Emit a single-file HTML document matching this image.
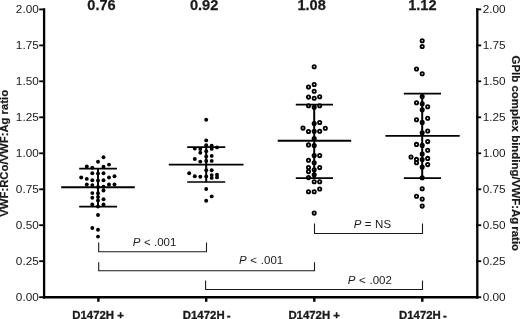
<!DOCTYPE html>
<html><head><meta charset="utf-8"><title>chart</title>
<style>html,body{margin:0;padding:0;background:#fff}svg{display:block}text{font-kerning:none;font-family:"Liberation Sans",Arial,sans-serif;fill:#1a1a1a}</style></head><body>
<svg width="520" height="319" viewBox="0 0 520 319">
<rect width="520" height="319" fill="#fff"/>
<g stroke="#000" fill="none" stroke-linecap="butt">
<path d="M44.1 8.2V298.4" stroke-width="2.3"/>
<path d="M477.3 8.2V298.4" stroke-width="2.3"/>
<path d="M42.8 297.2H478.6" stroke-width="2.5"/>
<path d="M39.2 297.2H44" stroke-width="1.8"/>
<path d="M476 297.2H481.2" stroke-width="1.8"/>
<path d="M39.2 261.2H44" stroke-width="1.8"/>
<path d="M476 261.2H481.2" stroke-width="1.8"/>
<path d="M39.2 225.2H44" stroke-width="1.8"/>
<path d="M476 225.2H481.2" stroke-width="1.8"/>
<path d="M39.2 189.3H44" stroke-width="1.8"/>
<path d="M476 189.3H481.2" stroke-width="1.8"/>
<path d="M39.2 153.3H44" stroke-width="1.8"/>
<path d="M476 153.3H481.2" stroke-width="1.8"/>
<path d="M39.2 117.3H44" stroke-width="1.8"/>
<path d="M476 117.3H481.2" stroke-width="1.8"/>
<path d="M39.2 81.3H44" stroke-width="1.8"/>
<path d="M476 81.3H481.2" stroke-width="1.8"/>
<path d="M39.2 45.4H44" stroke-width="1.8"/>
<path d="M476 45.4H481.2" stroke-width="1.8"/>
<path d="M39.2 9.4H44" stroke-width="1.8"/>
<path d="M476 9.4H481.2" stroke-width="1.8"/>
<path d="M98.4 297.2V301.8" stroke-width="2.4"/>
<path d="M206.2 297.2V301.8" stroke-width="2.4"/>
<path d="M314.3 297.2V301.8" stroke-width="2.4"/>
<path d="M422.3 297.2V301.8" stroke-width="2.4"/>
</g>
<g font-size="11.8">
<text x="38.8" y="300.6" text-anchor="end">0.00</text>
<text x="482.7" y="300.6">0.00</text>
<text x="38.8" y="264.6" text-anchor="end">0.25</text>
<text x="482.7" y="264.6">0.25</text>
<text x="38.8" y="228.7" text-anchor="end">0.50</text>
<text x="482.7" y="228.7">0.50</text>
<text x="38.8" y="192.7" text-anchor="end">0.75</text>
<text x="482.7" y="192.7">0.75</text>
<text x="38.8" y="156.7" text-anchor="end">1.00</text>
<text x="482.7" y="156.7">1.00</text>
<text x="38.8" y="120.7" text-anchor="end">1.25</text>
<text x="482.7" y="120.7">1.25</text>
<text x="38.8" y="84.7" text-anchor="end">1.50</text>
<text x="482.7" y="84.7">1.50</text>
<text x="38.8" y="48.8" text-anchor="end">1.75</text>
<text x="482.7" y="48.8">1.75</text>
<text x="38.8" y="12.8" text-anchor="end">2.00</text>
<text x="482.7" y="12.8">2.00</text>
</g>
<g stroke="#000" fill="none">
<path d="M98.0 168.6V206.6" stroke-width="2"/>
<path d="M61.2 187.2H134.8" stroke-width="1.9"/>
<path d="M79.2 168.6H117.0M79.2 206.6H117.0" stroke-width="1.7"/>
<path d="M206.2 147.1V182.0" stroke-width="2"/>
<path d="M168.8 164.6H243.5" stroke-width="1.9"/>
<path d="M187.2 147.1H225.2M187.2 182.0H225.2" stroke-width="1.7"/>
<path d="M314.2 104.7V178.2" stroke-width="2"/>
<path d="M277.7 140.8H351.2" stroke-width="1.9"/>
<path d="M295.8 104.7H333.0M295.8 178.2H333.0" stroke-width="1.7"/>
<path d="M422.2 93.6V178.2" stroke-width="2"/>
<path d="M385.4 135.9H459.7" stroke-width="1.9"/>
<path d="M403.8 93.6H441.0M403.8 178.2H441.0" stroke-width="1.7"/>
</g>
<g fill="#000">
<circle cx="103.5" cy="157.2" r="1.95"/>
<circle cx="98.0" cy="161.7" r="1.95"/>
<circle cx="109.0" cy="164.6" r="1.95"/>
<circle cx="86.8" cy="166.5" r="1.95"/>
<circle cx="103.5" cy="166.8" r="1.95"/>
<circle cx="92.3" cy="167.8" r="1.95"/>
<circle cx="92.3" cy="173.2" r="1.95"/>
<circle cx="103.5" cy="173.2" r="1.95"/>
<circle cx="98" cy="173.5" r="1.95"/>
<circle cx="81.2" cy="177.5" r="1.95"/>
<circle cx="86.8" cy="178.9" r="1.95"/>
<circle cx="92.3" cy="180.2" r="1.95"/>
<circle cx="103.5" cy="180.2" r="1.95"/>
<circle cx="98" cy="180.5" r="1.95"/>
<circle cx="109" cy="177.5" r="1.95"/>
<circle cx="114.5" cy="176.3" r="1.95"/>
<circle cx="86.8" cy="184.5" r="1.95"/>
<circle cx="92.3" cy="185.1" r="1.95"/>
<circle cx="109" cy="184.5" r="1.95"/>
<circle cx="114.5" cy="184.5" r="1.95"/>
<circle cx="103.5" cy="186.8" r="1.95"/>
<circle cx="98" cy="187" r="1.95"/>
<circle cx="103.5" cy="190.5" r="1.95"/>
<circle cx="92.3" cy="193.1" r="1.95"/>
<circle cx="98" cy="193.3" r="1.95"/>
<circle cx="92.3" cy="197.8" r="1.95"/>
<circle cx="98" cy="197" r="1.95"/>
<circle cx="103.5" cy="199.3" r="1.95"/>
<circle cx="98" cy="200.5" r="1.95"/>
<circle cx="92.3" cy="204.4" r="1.95"/>
<circle cx="103.5" cy="204.4" r="1.95"/>
<circle cx="98" cy="206.5" r="1.95"/>
<circle cx="98" cy="215" r="1.95"/>
<circle cx="92.3" cy="228" r="1.95"/>
<circle cx="98" cy="229.7" r="1.95"/>
<circle cx="98" cy="236.6" r="1.95"/>
<circle cx="206.2" cy="119.8" r="1.95"/>
<circle cx="206.2" cy="140.4" r="1.95"/>
<circle cx="206.2" cy="145.3" r="1.95"/>
<circle cx="211.7" cy="145.7" r="1.95"/>
<circle cx="217" cy="147.4" r="1.95"/>
<circle cx="194.8" cy="148.6" r="1.95"/>
<circle cx="200.3" cy="149.1" r="1.95"/>
<circle cx="211.7" cy="148.9" r="1.95"/>
<circle cx="206.2" cy="151.2" r="1.95"/>
<circle cx="200.3" cy="152.7" r="1.95"/>
<circle cx="211.7" cy="155.9" r="1.95"/>
<circle cx="206.2" cy="156.5" r="1.95"/>
<circle cx="194.8" cy="159" r="1.95"/>
<circle cx="200.3" cy="161.6" r="1.95"/>
<circle cx="211.7" cy="160.9" r="1.95"/>
<circle cx="206.2" cy="161" r="1.95"/>
<circle cx="206.2" cy="170.2" r="1.95"/>
<circle cx="211.7" cy="170.2" r="1.95"/>
<circle cx="189.2" cy="173.2" r="1.95"/>
<circle cx="194.8" cy="176.2" r="1.95"/>
<circle cx="200.3" cy="176.7" r="1.95"/>
<circle cx="206.2" cy="176.5" r="1.95"/>
<circle cx="211.7" cy="175.1" r="1.95"/>
<circle cx="211.7" cy="177.9" r="1.95"/>
<circle cx="217" cy="174.8" r="1.95"/>
<circle cx="217" cy="177.4" r="1.95"/>
<circle cx="206.2" cy="189" r="1.95"/>
<circle cx="211.7" cy="196.4" r="1.95"/>
<circle cx="206.2" cy="200.7" r="1.95"/>
</g>
<g fill="none" stroke="#000" stroke-width="1.8">
<circle cx="314.2" cy="66.7" r="1.65"/>
<circle cx="314.2" cy="84.5" r="1.65"/>
<circle cx="308.5" cy="87" r="1.65"/>
<circle cx="314.2" cy="91.2" r="1.65"/>
<circle cx="308.5" cy="97.1" r="1.65"/>
<circle cx="319.7" cy="96.7" r="1.65"/>
<circle cx="314.2" cy="98.3" r="1.65"/>
<circle cx="308.5" cy="105.7" r="1.65"/>
<circle cx="319.7" cy="105.7" r="1.65"/>
<circle cx="314.2" cy="107.2" r="1.65"/>
<circle cx="319.7" cy="122.5" r="1.65"/>
<circle cx="314.2" cy="123.5" r="1.65"/>
<circle cx="303" cy="128.1" r="1.65"/>
<circle cx="325.3" cy="128.3" r="1.65"/>
<circle cx="308.5" cy="131.5" r="1.65"/>
<circle cx="319.7" cy="131.2" r="1.65"/>
<circle cx="314.2" cy="131.2" r="1.65"/>
<circle cx="314.2" cy="138.5" r="1.65"/>
<circle cx="308.5" cy="144.9" r="1.65"/>
<circle cx="314.2" cy="145.5" r="1.65"/>
<circle cx="314.2" cy="155.6" r="1.65"/>
<circle cx="319.7" cy="155.6" r="1.65"/>
<circle cx="308.5" cy="160.2" r="1.65"/>
<circle cx="314.2" cy="162.8" r="1.65"/>
<circle cx="308.5" cy="167.6" r="1.65"/>
<circle cx="319.7" cy="167.6" r="1.65"/>
<circle cx="314.2" cy="169.7" r="1.65"/>
<circle cx="308.5" cy="171.6" r="1.65"/>
<circle cx="314.2" cy="174.8" r="1.65"/>
<circle cx="308.5" cy="177.6" r="1.65"/>
<circle cx="314.2" cy="181.7" r="1.65"/>
<circle cx="319.7" cy="181.7" r="1.65"/>
<circle cx="319.7" cy="189" r="1.65"/>
<circle cx="308.5" cy="191.8" r="1.65"/>
<circle cx="314.2" cy="191.8" r="1.65"/>
<circle cx="314.2" cy="213.1" r="1.65"/>
<circle cx="422.2" cy="40.8" r="1.65"/>
<circle cx="422.2" cy="46.5" r="1.65"/>
<circle cx="416.5" cy="69" r="1.65"/>
<circle cx="422.2" cy="73.7" r="1.65"/>
<circle cx="422.2" cy="96.5" r="1.65"/>
<circle cx="416.5" cy="102.7" r="1.65"/>
<circle cx="422.2" cy="103.7" r="1.65"/>
<circle cx="427.7" cy="106.8" r="1.65"/>
<circle cx="422.2" cy="109.7" r="1.65"/>
<circle cx="427.7" cy="118.2" r="1.65"/>
<circle cx="416.5" cy="119.8" r="1.65"/>
<circle cx="422.2" cy="122.4" r="1.65"/>
<circle cx="427.7" cy="131" r="1.65"/>
<circle cx="422.2" cy="132.7" r="1.65"/>
<circle cx="427.7" cy="141.6" r="1.65"/>
<circle cx="416.5" cy="144.4" r="1.65"/>
<circle cx="422.2" cy="145.4" r="1.65"/>
<circle cx="427.7" cy="150.2" r="1.65"/>
<circle cx="422.2" cy="154" r="1.65"/>
<circle cx="411" cy="157" r="1.65"/>
<circle cx="427.7" cy="158.4" r="1.65"/>
<circle cx="416.5" cy="159.4" r="1.65"/>
<circle cx="422.2" cy="159.6" r="1.65"/>
<circle cx="416.5" cy="162.7" r="1.65"/>
<circle cx="427.7" cy="164.6" r="1.65"/>
<circle cx="422.2" cy="167.1" r="1.65"/>
<circle cx="422.2" cy="177.7" r="1.65"/>
<circle cx="422.2" cy="188.7" r="1.65"/>
<circle cx="416.5" cy="196.3" r="1.65"/>
<circle cx="422.2" cy="199.1" r="1.65"/>
<circle cx="422.2" cy="206.1" r="1.65"/>
</g>
<g stroke="#1a1a1a" fill="none" stroke-width="1.1">
<path d="M98.7 242.6V251.8H206.5V242.6"/>
<path d="M98.7 262.3V270.7H314.5V262.3"/>
<path d="M205.6 280.4V289.5H422.5V280.4"/>
<path d="M314.5 223.6V233.5H422.5V223.6"/>
</g>
<g font-size="11.5">
<text x="132.7" y="245.8"><tspan font-style="italic">P</tspan><tspan dx="0.5"> &lt;</tspan> .001</text>
<text x="239.1" y="264.3"><tspan font-style="italic">P</tspan><tspan dx="0.3"> &lt;</tspan><tspan dx="0.6"> .001</tspan></text>
<text x="347.7" y="283.8"><tspan font-style="italic">P</tspan><tspan dx="0.5"> &lt;</tspan><tspan dx="0.5"> .002</tspan></text>
<text x="353.8" y="227.8"><tspan font-style="italic">P</tspan> =<tspan dx="0.5"> NS</tspan></text>
</g>
<g font-size="14.6" font-weight="bold" text-anchor="middle" stroke="#1a1a1a" stroke-width="0.25">
<text x="101.5" y="10.45">0.76</text>
<text x="204.1" y="10.45">0.92</text>
<text x="311.6" y="10.45">1.08</text>
<text x="422.4" y="10.45">1.12</text>
</g>
<g font-size="11.4" font-weight="bold" text-anchor="middle" stroke="#1a1a1a" stroke-width="0.3">
<text x="98.1" y="318.7">D1472H +</text>
<text x="206.7" y="318.7">D1472H<tspan dx="-1.0"> -</tspan></text>
<text x="314.2" y="318.7">D1472H +</text>
<text x="422.9" y="318.7">D1472H<tspan dx="-1.0"> -</tspan></text>
</g>
<text font-size="11.3" font-weight="bold" text-anchor="middle" stroke="#1a1a1a" stroke-width="0.2" transform="translate(8.3 153.3) rotate(-90)">VWF:RCo/VWF:Ag ratio</text>
<text font-size="11.47" font-weight="bold" text-anchor="start" stroke="#1a1a1a" stroke-width="0.2" transform="translate(511.5 55.5) rotate(90)">GPIb complex binding/VWF:Ag<tspan dx="-1.3"> ratio</tspan></text>
</svg></body></html>
